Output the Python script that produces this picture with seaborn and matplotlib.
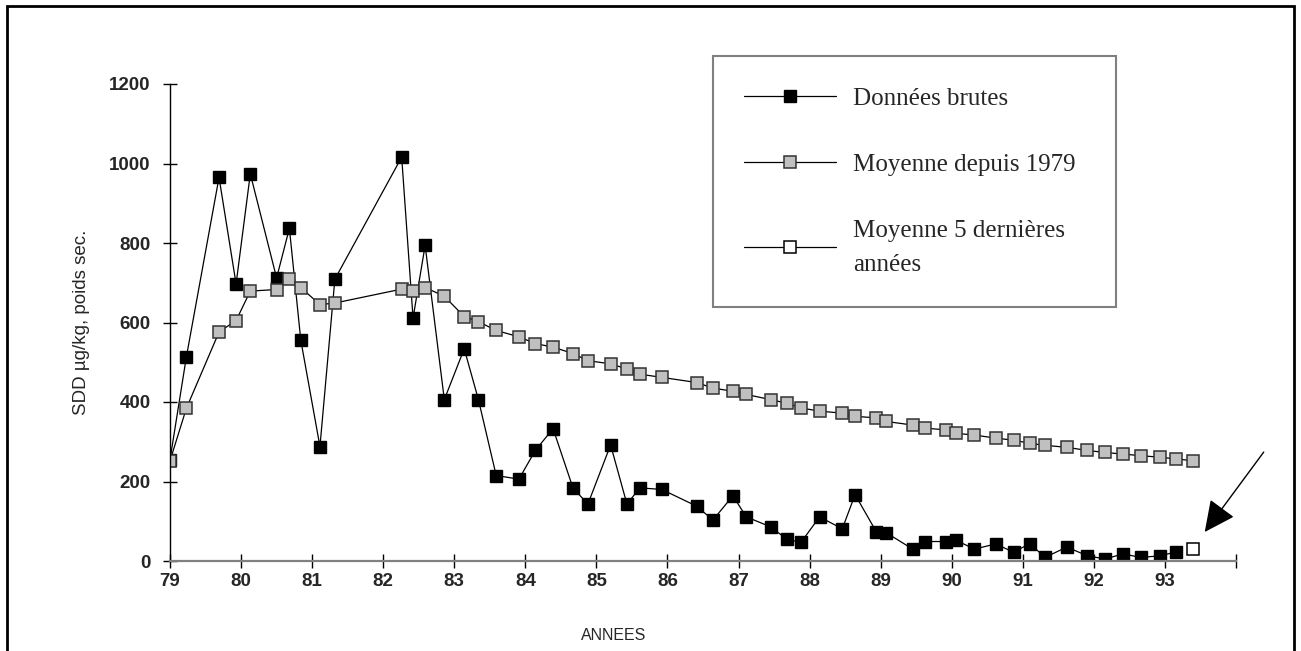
import matplotlib
matplotlib.use("Agg")
import matplotlib.pyplot as plt
import matplotlib.patches as mpatches
import seaborn as sns
import pandas as pd

# ---- data ----
years = [79.00, 79.23, 79.69, 79.93, 80.13, 80.50, 80.68, 80.84, 81.11, 81.32,
         82.26, 82.42, 82.59, 82.86, 83.14, 83.34, 83.59, 83.91, 84.14, 84.39,
         84.67, 84.88, 85.20, 85.43, 85.61, 85.92, 86.41, 86.64, 86.92, 87.11,
         87.45, 87.68, 87.88, 88.14, 88.46, 88.64, 88.94, 89.08, 89.45, 89.63,
         89.92, 90.06, 90.32, 90.62, 90.87, 91.10, 91.31, 91.62, 91.91, 92.16,
         92.41, 92.66, 92.93, 93.16, 93.39]

raw_values = [255, 513, 965, 697, 974, 712, 837, 556, 288, 709,
              1016, 611, 794, 406, 534, 406, 215, 206, 278, 333,
              184, 143, 292, 143, 184, 180, 138, 103, 164, 111,
              86, 55, 47, 111, 81, 167, 73, 71, 30, 49,
              49, 52, 30, 43, 22, 44, 9, 35, 13, 5,
              18, 9, 13, 23]

mean_since_1979 = [252, 384, 576, 605, 679, 683, 709, 688, 645, 649,
                   684, 679, 688, 666, 615, 602, 580, 564, 547, 538,
                   522, 504, 496, 483, 470, 462, 449, 435, 427, 419,
                   406, 397, 385, 377, 372, 364, 360, 351, 342, 334,
                   330, 321, 317, 309, 304, 296, 291, 286, 278, 273,
                   269, 265, 261, 257, 252]

mean_last5_year = [93.39]
mean_last5 = [29]

series_labels = ["Données brutes", "Moyenne depuis 1979", "Moyenne 5 dernières\nannées"]
xtick_values = [79, 80, 81, 82, 83, 84, 85, 86, 87, 88, 89, 90, 91, 92, 93, 94]
xtick_labels = ["79", "80", "81", "82", "83", "84", "85", "86", "87", "88",
                "89", "90", "91", "92", "93", ""]
ytick_values = [0, 200, 400, 600, 800, 1000, 1200]
y_label = "SDD µg/kg, poids sec."
x_label = "ANNEES"

# ---- style ----
sns.set_theme(style="white")
plt.rcParams['font.family'] = ['Liberation Sans', 'DejaVu Sans']

W, H = 1301, 651
fig = plt.figure(figsize=(W / 100, H / 100), dpi=100)
ax = fig.add_axes([170 / W, 1 - 561 / H, 1066 / W, 477 / H])

df_raw = pd.DataFrame({"x": years[:len(raw_values)], "y": raw_values})
df_mean = pd.DataFrame({"x": years, "y": mean_since_1979})
df_5 = pd.DataFrame({"x": mean_last5_year, "y": mean_last5})

ms = 9.3
sns.lineplot(data=df_raw, x="x", y="y", ax=ax, color="black", lw=0.9,
             marker="s", markersize=ms, markerfacecolor="black",
             markeredgecolor="black", markeredgewidth=1, sort=False,
             estimator=None, label=series_labels[0], legend=False)
sns.lineplot(data=df_mean, x="x", y="y", ax=ax, color="black", lw=0.9,
             marker="s", markersize=ms, markerfacecolor="#c0c0c0",
             markeredgecolor="#333333", markeredgewidth=1.1, sort=False,
             estimator=None, label=series_labels[1], legend=False)
sns.lineplot(data=df_5, x="x", y="y", ax=ax, color="black", lw=0.9,
             marker="s", markersize=ms, markerfacecolor="white",
             markeredgecolor="black", markeredgewidth=1.1, sort=False,
             estimator=None, label=series_labels[2], legend=False)

ax.set_xlim(79, 94)
ax.set_ylim(0, 1200)
ax.set_xticks(xtick_values)
ax.set_xticklabels(xtick_labels)
ax.set_yticks(ytick_values)
ax.set_xlabel("")
ax.set_ylabel("")

for s in ["top", "right"]:
    ax.spines[s].set_visible(False)
ax.spines["left"].set_color("black")
ax.spines["left"].set_linewidth(1.0)
ax.spines["bottom"].set_color("#808080")
ax.spines["bottom"].set_linewidth(1.6)

ax.tick_params(axis="y", left=True, direction="inout", length=10, width=1,
               color="black", pad=9, labelsize=13.5)
ax.tick_params(axis="x", bottom=True, direction="inout", length=10, width=1,
               color="black", pad=4, labelsize=13.5)
for lab in ax.get_xticklabels() + ax.get_yticklabels():
    lab.set_fontweight("bold")

fig.text(82 / W, 1 - 322 / H, y_label, rotation=90, ha="center", va="center",
         fontsize=13.5)
fig.text(614 / W, 1 - 636 / H, x_label, ha="center", va="center", fontsize=11.5)

# arrow pointing to the last-5-years mean
ax.annotate("", xy=(93.56, 73), xytext=(94.39, 274), xycoords="data",
            textcoords="data", annotation_clip=False,
            arrowprops=dict(arrowstyle="-|>,head_length=0.97,head_width=0.47",
                            mutation_scale=20, lw=1, color="black",
                            shrinkA=0, shrinkB=0))

# legend
handles = ax.get_lines()[:3]
leg = ax.legend(handles, series_labels, loc="upper left",
                bbox_to_anchor=(713 / W, 1 - 312 / H, (1116 - 713) / W, (312 - 56) / H),
                bbox_transform=fig.transFigure, mode="expand",
                prop={"family": "Liberation Serif", "size": 18},
                handlelength=3.68, handletextpad=0.68, borderpad=1.25,
                labelspacing=1.75, frameon=True, fancybox=False,
                framealpha=1, borderaxespad=0)
leg.get_frame().set_edgecolor("#808080")
leg.get_frame().set_linewidth(1.5)
for t in leg.get_texts():
    t.set_linespacing(1.7)

# outer frame
fig.patches.append(mpatches.Rectangle((7 / W, -0.05), (1294 - 7) / W, 1.05 - 6 / H,
                                      transform=fig.transFigure, fill=False,
                                      edgecolor="black", lw=2))

fig.savefig("out.png", dpi=100)
